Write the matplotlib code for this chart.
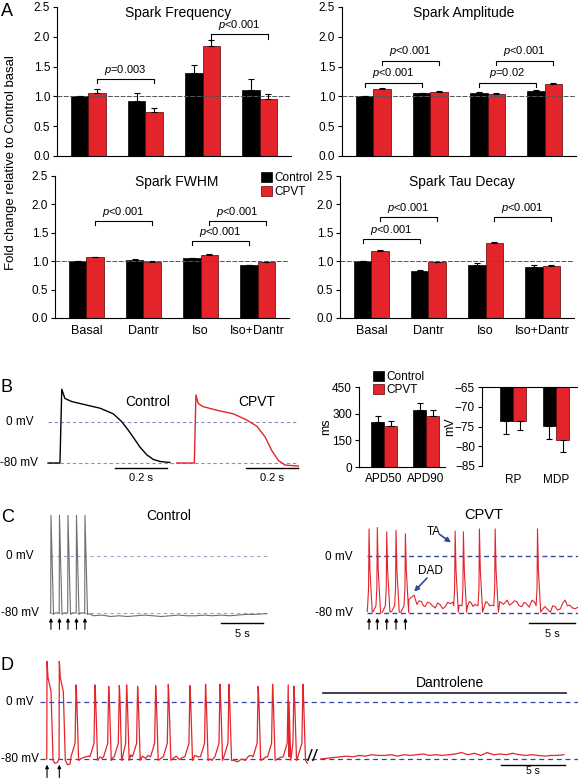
import numpy as np
import matplotlib.pyplot as plt
from matplotlib.patches import Patch

plt.rcParams['font.family'] = ['Liberation Sans', 'DejaVu Sans']
plt.rcParams['mathtext.fontset'] = 'custom'
plt.rcParams['mathtext.it'] = 'Liberation Sans:italic'
plt.rcParams['mathtext.rm'] = 'Liberation Sans'
plt.rcParams['axes.linewidth'] = 0.8

RED = '#e3242b'
DKRED = '#5a0000'
BLUE = '#3444a0'

# ---------------- A: spark properties (fold change vs control basal) ----------------
conditions = ['Basal', 'Dantr', 'Iso', 'Iso+Dantr']

freq_ctrl = [1.00, 0.92, 1.39, 1.10]
freq_ctrl_err = [0.01, 0.13, 0.14, 0.20]
freq_cpvt = [1.05, 0.74, 1.84, 0.96]
freq_cpvt_err = [0.07, 0.07, 0.11, 0.08]

amp_ctrl = [1.00, 1.05, 1.06, 1.09]
amp_ctrl_err = [0.01, 0.01, 0.01, 0.01]
amp_cpvt = [1.13, 1.08, 1.04, 1.21]
amp_cpvt_err = [0.01, 0.01, 0.01, 0.01]

fwhm_ctrl = [1.00, 1.02, 1.05, 0.93]
fwhm_ctrl_err = [0.01, 0.01, 0.01, 0.01]
fwhm_cpvt = [1.07, 0.99, 1.11, 0.98]
fwhm_cpvt_err = [0.01, 0.01, 0.01, 0.01]

tau_ctrl = [1.00, 0.83, 0.93, 0.90]
tau_ctrl_err = [0.01, 0.02, 0.03, 0.03]
tau_cpvt = [1.18, 0.98, 1.32, 0.92]
tau_cpvt_err = [0.01, 0.01, 0.01, 0.02]

# (group from, series, group to, series, bracket height, text)
freq_brackets = [(0, 'r', 1, 'r', 1.29, '$p$=0.003'), (2, 'r', 3, 'r', 2.04, '$p$<0.001')]
amp_brackets = [(0, 'c', 1, 'c', 1.23, '$p$<0.001'), (0, 'r', 1, 'r', 1.60, '$p$<0.001'),
                (2, 'c', 3, 'c', 1.23, '$p$=0.02'), (2, 'r', 3, 'r', 1.60, '$p$<0.001')]
fwhm_brackets = [(0, 'r', 1, 'r', 1.71, '$p$<0.001'), (2, 'r', 3, 'r', 1.71, '$p$<0.001'),
                 (2, 'c', 3, 'c', 1.35, '$p$<0.001')]
tau_brackets = [(0, 'c', 1, 'c', 1.39, '$p$<0.001'), (0, 'r', 1, 'r', 1.77, '$p$<0.001'),
                (2, 'r', 3, 'r', 1.77, '$p$<0.001')]

# ---------------- B: single action potentials + summary ----------------
ctrl_ap_t = [0.0, 0.046, 0.053, 0.065, 0.091, 0.149, 0.20, 0.251, 0.283, 0.309, 0.335,
             0.354, 0.38, 0.405, 0.431, 0.469]
ctrl_ap_v = [-80, -80, 64, 46, 40, 33, 27, 16, 1, -16, -35, -49, -64, -73, -77, -79]
cpvt_ap_t = [0.0, 0.068, 0.074, 0.083, 0.102, 0.154, 0.218, 0.269, 0.308, 0.340, 0.365,
             0.391, 0.417, 0.468]
cpvt_ap_v = [-80, -80, 53, 36, 30, 23, 16, 4, -8, -29, -55, -75, -84, -86]

apd_labels = ['APD50', 'APD90']
apd_ctrl = [253, 319]
apd_ctrl_err = [32, 41]
apd_cpvt = [233, 289]
apd_cpvt_err = [26, 34]

rest_labels = ['RP', 'MDP']
rest_ctrl = [-73.6, -74.9]
rest_ctrl_err = [3.2, 3.2]
rest_cpvt = [-73.6, -78.4]
rest_cpvt_err = [2.2, 3.0]

# ---------------- C: paced trains (1 Hz) ----------------
c_ctrl_spk_t = [0, 1, 2, 3, 4]
c_ctrl_spk_v = [57, 57, 57, 57, 57]
c_ctrl_base_t = [-0.1, 0.5, 1.5, 2.5, 3.5, 4.5, 5.0, 6.0, 7.0, 8.0, 9.0, 10.0, 11.0, 12.0,
                 13.0, 14.0, 15.0, 16.0, 17.0, 18.0, 19.0, 20.0, 21.0, 22.0, 23.0, 24.0, 25.4]
c_ctrl_base_v = [-80, -80, -80, -80, -80, -81, -84, -83, -85, -84, -85, -84, -83, -84,
                 -85, -84, -83, -84, -84, -83, -84, -83, -84, -83, -82, -82, -81]

c_cpvt_spk_t = [0, 0.9, 1.92, 2.93, 3.95, 9.35, 10.25, 11.99, 13.7, 18.3]
c_cpvt_spk_v = [38, 40, 34, 36, 31, 35, 34, 38, 38, 38]
c_cpvt_base_t = [-0.2, 0.45, 1.45, 2.45, 3.45, 4.32, 4.9, 5.2, 5.45, 5.7, 5.9, 6.1, 6.35,
                 6.6, 6.9, 7.2, 7.45, 7.7, 8.0, 8.3, 8.55, 8.8, 9.1, 9.8, 10.7, 10.9, 11.1,
                 11.3, 11.5, 12.5, 12.7, 12.9, 13.1, 13.3, 14.2, 14.6, 15.0, 15.25, 15.5,
                 15.8, 16.05, 16.3, 16.6, 16.85, 17.1, 17.4, 17.7, 18.0, 18.8, 19.1, 19.4,
                 19.7, 19.95, 20.2, 20.5, 20.8, 21.05, 21.3, 21.55, 21.8, 22.1, 22.4, 22.7]
c_cpvt_base_v = [-78, -78, -79, -78, -79, -61, -55, -68, -63, -64, -70, -71, -65,
                 -66, -70, -73, -66, -68, -74, -71, -65, -67, -65, -69, -70, -64, -66,
                 -71, -68, -72, -64, -66, -70, -69, -64, -68, -62, -69, -67,
                 -63, -64, -70, -71, -65, -67, -72, -62, -65, -76, -71, -75,
                 -79, -70, -71, -76, -74, -66, -62, -70, -69, -73, -74, -72]

# ---------------- D: CPVT train, then dantrolene ----------------
d_paced_t = [0, 0.96]
d_paced_v = [57, 57]
d_spont_t = [2.27, 3.75, 4.82, 5.65, 6.22, 7.08, 8.49, 9.48, 11.17, 12.39, 13.52, 14.22,
             16.5, 17.63, 18.85, 19.3, 20.0]
d_spont_v = [24, 24, 22, 23, 24, 22, 23, 25, 23, 25, 25, 25, 22, 25, 24, 22, 25]
d_base_t = [-0.05, 0.6, 0.8, 1.6, 1.8, 2.7, 3.0, 3.25, 4.15, 4.3, 5.15, 6.55, 7.45, 7.7,
            7.9, 8.85, 9.85, 10.1, 10.35, 10.55, 11.55, 11.8, 12.75, 12.9, 13.0, 14.6,
            14.9, 15.2, 15.5, 15.75, 15.95, 16.9, 17.1, 18.0, 18.2, 20.35]
d_base_v = [-80, -86, -85, -88, -87, -79, -77, -76, -77, -79, -78, -74, -76, -79,
            -75, -80, -79, -76, -81, -78, -75, -77, -80, -82, -79, -82,
            -84, -80, -82, -76, -75, -80, -77, -80, -78, -86]
d_dan_v = [-80, -79, -78, -77, -76, -77, -75, -76, -74, -75, -75, -74, -76, -74, -75,
           -74, -73, -75, -74, -75, -74, -73, -71, -74, -72, -75, -71, -74, -73, -74,
           -72, -74, -75, -74, -75, -76, -75, -75, -74]
d_dan_start, d_dan_end = 21.4, 40.4


def build_trace(base_t, base_v, groups):
    # groups: (spike times, spike peaks, shape offsets, shape voltages; None = peak)
    pts = []
    windows = []
    for spk_t, spk_v, sh_t, sh_v in groups:
        for t0, pk in zip(spk_t, spk_v):
            windows.append((t0 + sh_t[0], t0 + sh_t[-1]))
            for dt, v in zip(sh_t, sh_v):
                pts.append((t0 + dt, pk if v is None else v))
    for t, v in zip(base_t, base_v):
        if not any(a < t < b for a, b in windows):
            pts.append((t, v))
    pts.sort()
    return [p[0] for p in pts], [p[1] for p in pts]


W, H = 578, 778
fig = plt.figure(figsize=(W / 100, H / 100), dpi=100)


def px_axes(x0, y0, x1, y1):
    return fig.add_axes([x0 / W, 1 - y1 / H, (x1 - x0) / W, (y1 - y0) / H])


def ftext(x, y, s, **kw):
    fig.text(x / W, 1 - y / H, s, **kw)


def spark_panel(ax, title, ctrl, ctrl_err, cpvt, cpvt_err, brackets, bottom):
    x = np.arange(len(conditions))
    w = 0.3
    ax.bar(x - w / 2, ctrl, w, color='black', edgecolor='black', lw=0.5, zorder=2)
    ax.bar(x + w / 2, cpvt, w, color=RED, edgecolor=DKRED, lw=0.5, zorder=2)
    zero = np.zeros(len(x))
    ax.errorbar(x - w / 2, ctrl, yerr=[zero, ctrl_err], fmt='none', ecolor='black',
                elinewidth=0.8, capsize=2.2, capthick=0.8, zorder=4)
    ax.errorbar(x + w / 2, cpvt, yerr=[zero, cpvt_err], fmt='none', ecolor='black',
                elinewidth=0.8, capsize=2.2, capthick=0.8, zorder=4)
    ax.axhline(1.0, color='#555555', lw=0.7, ls=(0, (5, 1.5)), zorder=3)
    off = {'c': -w / 2, 'r': w / 2}
    for g1, s1, g2, s2, y, txt in brackets:
        xa, xb = g1 + off[s1], g2 + off[s2]
        ax.plot([xa, xa, xb, xb], [y - 0.07, y, y, y - 0.07], color='black', lw=0.8)
        ax.text((xa + xb) / 2, y + 0.04, txt, ha='center', va='bottom', fontsize=8)
    ax.text(1.58, 2.4, title, ha='center', va='center', fontsize=10)
    ax.set_ylim(0, 2.5)
    ax.set_xlim(-0.55, 3.55)
    ax.set_yticks([0, 0.5, 1.0, 1.5, 2.0, 2.5])
    ax.set_yticklabels(['0.0', '0.5', '1.0', '1.5', '2.0', '2.5'])
    ax.tick_params(axis='y', labelsize=8.5, length=3, width=0.8, pad=2)
    for s in ['top', 'right']:
        ax.spines[s].set_visible(False)
    if bottom:
        ax.set_xticks(x)
        ax.set_xticklabels(conditions)
        ax.tick_params(axis='x', length=0, labelsize=9, pad=5)
    else:
        ax.set_xticks([])


ax = px_axes(57, 7, 291, 156)
spark_panel(ax, 'Spark Frequency', freq_ctrl, freq_ctrl_err, freq_cpvt, freq_cpvt_err,
            freq_brackets, False)
ax = px_axes(342, 7, 576, 156)
spark_panel(ax, 'Spark Amplitude', amp_ctrl, amp_ctrl_err, amp_cpvt, amp_cpvt_err,
            amp_brackets, False)
ax = px_axes(55, 176, 289, 318)
spark_panel(ax, 'Spark FWHM', fwhm_ctrl, fwhm_ctrl_err, fwhm_cpvt, fwhm_cpvt_err,
            fwhm_brackets, True)
ax = px_axes(340, 176, 574, 318)
spark_panel(ax, 'Spark Tau Decay', tau_ctrl, tau_ctrl_err, tau_cpvt, tau_cpvt_err,
            tau_brackets, True)

ftext(11, 163, 'Fold change relative to Control basal', rotation=90, ha='center',
      va='center', fontsize=9.5)
legend_handles = [Patch(fc='black', ec='black', lw=0.5), Patch(fc=RED, ec=DKRED, lw=0.5)]
fig.legend(legend_handles, ['Control', 'CPVT'], loc='upper left',
           bbox_to_anchor=(261 / W, 1 - 172 / H), frameon=False, fontsize=8.5,
           handlelength=0.9, handleheight=0.9, handletextpad=0.25, labelspacing=0.15,
           borderpad=0, borderaxespad=0)

# ---- B traces ----
ax = px_axes(45, 378, 302, 485)
cpvt_shift = 0.495
ax.plot([0, 0.96], [0, 0], color='#8c8cc0', lw=0.8, ls=(0, (3, 2.5)))
ax.plot([0, 0.96], [-80, -80], color='#8c8cc0', lw=0.8, ls=(0, (3, 2.5)))
ax.plot(ctrl_ap_t, ctrl_ap_v, color='black', lw=1.0)
ax.plot(np.array(cpvt_ap_t) + cpvt_shift, cpvt_ap_v, color=RED, lw=1.0)
ax.plot([0.258, 0.458], [-90, -90], color='black', lw=1.0)
ax.plot([0.76, 0.96], [-90, -90], color='black', lw=1.0)
ax.text(0.358, -100, '0.2 s', ha='center', va='top', fontsize=8)
ax.text(0.86, -100, '0.2 s', ha='center', va='top', fontsize=8)
ax.text(0.385, 40, 'Control', ha='center', va='center', fontsize=10)
ax.text(0.804, 40, 'CPVT', ha='center', va='center', fontsize=10)
ax.set_xlim(-0.0115, 0.977)
ax.set_ylim(-122.9, 85.9)
ax.axis('off')
ftext(34, 422, '0 mV', ha='right', va='center', fontsize=8.5)
ftext(38, 463, '-80 mV', ha='right', va='center', fontsize=8.5)

# ---- B APD bars ----
ax = px_axes(359, 387, 445, 467)
xb = np.arange(2)
bw = 0.31
ax.bar(xb - bw / 2, apd_ctrl, bw, color='black', edgecolor='black', lw=0.5)
ax.bar(xb + bw / 2, apd_cpvt, bw, color=RED, edgecolor=DKRED, lw=0.5)
ax.errorbar(xb - bw / 2, apd_ctrl, yerr=[[0, 0], apd_ctrl_err], fmt='none', ecolor='black',
            elinewidth=0.8, capsize=2.2, capthick=0.8)
ax.errorbar(xb + bw / 2, apd_cpvt, yerr=[[0, 0], apd_cpvt_err], fmt='none', ecolor='black',
            elinewidth=0.8, capsize=2.2, capthick=0.8)
ax.set_xlim(-0.6, 1.45)
ax.set_ylim(0, 450)
ax.set_yticks([0, 150, 300, 450])
ax.set_xticks(xb)
ax.set_xticklabels(apd_labels)
ax.tick_params(axis='x', length=0, labelsize=8.5, pad=4)
ax.tick_params(axis='y', labelsize=8.5, length=3, pad=2)
ax.set_ylabel('ms', fontsize=9, labelpad=0)
for s in ['top', 'right']:
    ax.spines[s].set_visible(False)
fig.legend(legend_handles, ['Control', 'CPVT'], loc='upper left',
           bbox_to_anchor=(373 / W, 1 - 371 / H), frameon=False, fontsize=8.5,
           handlelength=0.9, handleheight=0.9, handletextpad=0.25, labelspacing=0.1,
           borderpad=0, borderaxespad=0)

# ---- B RP / MDP bars (hanging from -65 mV) ----
ax = px_axes(482, 387, 577, 466)
ax.bar(xb - bw / 2, np.array(rest_ctrl) + 65, bw, bottom=-65, color='black',
       edgecolor='black', lw=0.5)
ax.bar(xb + bw / 2, np.array(rest_cpvt) + 65, bw, bottom=-65, color=RED,
       edgecolor=DKRED, lw=0.5)
ax.errorbar(xb - bw / 2, rest_ctrl, yerr=[rest_ctrl_err, [0, 0]], fmt='none', ecolor='black',
            elinewidth=0.8, capsize=2.2, capthick=0.8)
ax.errorbar(xb + bw / 2, rest_cpvt, yerr=[rest_cpvt_err, [0, 0]], fmt='none', ecolor='black',
            elinewidth=0.8, capsize=2.2, capthick=0.8)
ax.set_xlim(-0.72, 1.49)
ax.set_ylim(-85, -65)
ax.set_yticks([-65, -70, -75, -80, -85])
ax.set_xticks(xb)
ax.set_xticklabels(rest_labels)
ax.tick_params(axis='x', length=0, labelsize=8.5, pad=6)
ax.tick_params(axis='y', labelsize=8.5, length=3, pad=2)
ax.set_ylabel('mV', fontsize=9, labelpad=-1)
for s in ['bottom', 'right']:
    ax.spines[s].set_visible(False)


def paced_arrows(ax, times, y0, y1):
    for t in times:
        ax.annotate('', xy=(t, y1), xytext=(t, y0),
                    arrowprops=dict(arrowstyle='-|>', color='black', lw=0.8,
                                    mutation_scale=5, shrinkA=0, shrinkB=0))


# ---- C control ----
ax = px_axes(40, 500, 300, 640)
ax.plot([-0.1, 25.4], [0, 0], color='#a0a0c0', lw=0.8, ls=(0, (3, 3)))
ax.plot([-0.1, 25.4], [-80, -80], color='#a0a0c0', lw=0.8, ls=(0, (3, 3)))
tt, vv = build_trace(c_ctrl_base_t, c_ctrl_base_v,
                     [(c_ctrl_spk_t, c_ctrl_spk_v, [-0.03, 0, 0.3], [-80, None, -82])])
ax.plot(tt, vv, color='#6e6e6e', lw=0.8)
ax.plot([20, 25], [-94, -94], color='black', lw=1.0)
ax.text(22.5, -102, '5 s', ha='center', va='top', fontsize=8)
ax.text(13.8, 56, 'Control', ha='center', va='center', fontsize=10)
paced_arrows(ax, c_ctrl_spk_t, -103, -87)
ax.set_xlim(-1.29, 29.3)
ax.set_ylim(-118, 78.6)
ax.axis('off')
ftext(34, 556, '0 mV', ha='right', va='center', fontsize=8.5)
ftext(39, 613, '-80 mV', ha='right', va='center', fontsize=8.5)

# ---- C CPVT ----
ax = px_axes(330, 500, 578, 640)
ax.plot([-0.2, 22.7], [0, 0], color=BLUE, lw=1.0, ls=(0, (3.5, 2.5)))
ax.plot([-0.2, 22.7], [-80, -80], color=BLUE, lw=1.0, ls=(0, (3.5, 2.5)))
tt, vv = build_trace(c_cpvt_base_t, c_cpvt_base_v,
                     [(c_cpvt_spk_t, c_cpvt_spk_v, [-0.15, -0.05, 0, 0.1, 0.35],
                       [-70, -45, None, -20, -79])])
ax.plot(tt, vv, color=RED, lw=0.8)
ax.plot([17.4, 22.4], [-94, -94], color='black', lw=1.0)
ax.text(19.9, -102, '5 s', ha='center', va='top', fontsize=8)
ax.text(12.5, 57, 'CPVT', ha='center', va='center', fontsize=10.5)
ax.text(7.0, 34, 'TA', ha='center', va='center', fontsize=8.5)
ax.annotate('', xy=(8.9, 19), xytext=(7.7, 30),
            arrowprops=dict(arrowstyle='-|>', color=BLUE, lw=1.2, mutation_scale=7,
                            shrinkA=0, shrinkB=0))
ax.text(6.7, -21, 'DAD', ha='center', va='center', fontsize=8.5)
ax.annotate('', xy=(4.9, -50), xytext=(6.3, -31),
            arrowprops=dict(arrowstyle='-|>', color=BLUE, lw=1.2, mutation_scale=7,
                            shrinkA=0, shrinkB=0))
paced_arrows(ax, c_cpvt_spk_t[:5], -103, -87)
ax.set_xlim(-4.24, 22.7)
ax.set_ylim(-118, 78.6)
ax.axis('off')
ftext(353, 557, '0 mV', ha='right', va='center', fontsize=8.5)
ftext(353, 613, '-80 mV', ha='right', va='center', fontsize=8.5)

# ---- D ----
ax = px_axes(40, 650, 578, 778)
ax.axhline(0, color=BLUE, lw=0.9, ls=(0, (4, 3)))
ax.axhline(-80, color=BLUE, lw=0.9, ls=(0, (4, 3)))
tt, vv = build_trace(d_base_t, d_base_v,
                     [(d_paced_t, d_paced_v, [-0.02, 0, 0.08, 0.31, 0.4, 0.47],
                       [-80, None, 34, 15, -40, -82]),
                      (d_spont_t, d_spont_v, [-0.4, -0.08, 0, 0.06, 0.2],
                       [-77, -58, None, 0, -82])])
ax.plot(tt, vv, color=RED, lw=0.9)
ax.plot(np.linspace(d_dan_start, d_dan_end, len(d_dan_v)), d_dan_v, color=RED, lw=0.9)
ax.plot([20.39, 20.7], [-82, -67], color='black', lw=1.0)
ax.plot([20.78, 21.1], [-82, -67], color='black', lw=1.0)
ax.plot([21.6, 40.6], [12.6, 12.6], color='#333333', lw=1.3)
ax.text(31.5, 26, 'Dantrolene', ha='center', va='center', fontsize=10)
ax.plot([35.5, 40.5], [-88, -88], color='black', lw=1.0)
ax.text(38.0, -96.5, '5 s', ha='center', va='center', fontsize=7.5)
paced_arrows(ax, d_paced_t, -106, -88)
ax.set_xlim(-0.55, 41.5)
ax.set_ylim(-106.7, 73)
ax.axis('off')
ftext(34, 702, '0 mV', ha='right', va='center', fontsize=8.5)
ftext(39, 759, '-80 mV', ha='right', va='center', fontsize=8.5)

# panel letters
for letter, y in [('A', 11), ('B', 387), ('C', 517), ('D', 665)]:
    ftext(1, y, letter, ha='left', va='center', fontsize=13)

plt.savefig('out.png', dpi=100)
